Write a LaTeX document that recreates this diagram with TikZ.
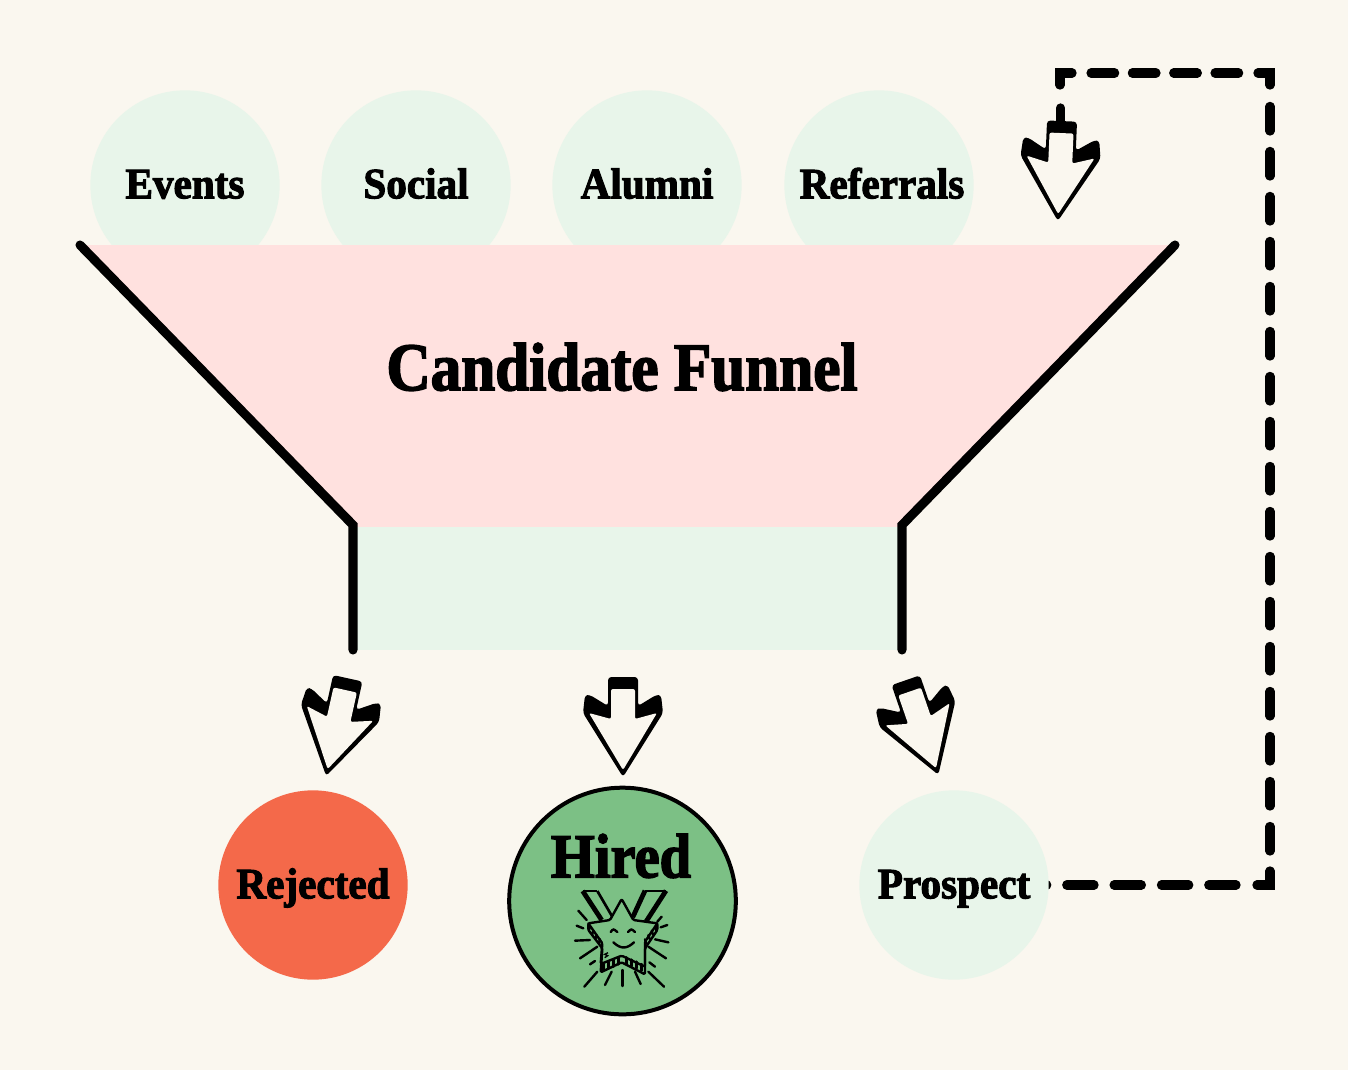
\documentclass[tikz,border=0pt]{standalone}
\usepackage{fontspec}
\setmainfont{Liberation Serif}[BoldFeatures={FakeBold=2.4,FakeStretch=0.90}]
\newfontfamily\labelfont{Liberation Serif}[BoldFeatures={FakeBold=2.4,FakeStretch=0.95}]
\pgfdeclarelayer{under}
\pgfsetlayers{under,main}
\definecolor{paper}{HTML}{FAF7EF}
\definecolor{mint}{HTML}{E8F5EA}
\definecolor{blush}{HTML}{FFE1DF}
\definecolor{coral}{HTML}{F4694A}
\definecolor{leaf}{HTML}{7CC085}
\tikzset{
    bubble/.style={circle, fill=mint, minimum size=142pt, inner sep=0pt,
        font=\labelfont\bfseries\fontsize{32.5}{32.5}\selectfont, text height=20pt, text depth=0pt},
    funnelwall/.style={line width=6.8pt, line cap=round, line join=miter},
    feedback/.style={line width=7pt, line cap=round, line join=miter},
    ray/.style={line width=1.8pt, line cap=round},
    downarrow/.pic={
        \fill[black, rounded corners=2.5pt] (0,4) -- (-40,-60) -- (-38,-78) -- (-33,-78) -- (-15,-67)
            -- (-15,-96) -- (15,-96) -- (15,-67) -- (33,-78) -- (38,-78) -- (40,-60) -- cycle;
        \fill[paper, rounded corners=1.5pt] (0,-3) -- (-34,-60) -- (-12,-54) -- (-12,-84)
            -- (12,-84) -- (12,-54) -- (34,-60) -- cycle;
    }
}
\begin{document}
\begin{tikzpicture}[x=0.75pt, y=-0.75pt]
    \useasboundingbox (0,0) rectangle (1348,1070);
    % sources
    \node[bubble] (Events) at (185,185) {Events};
    \node[bubble] (Social) at (416,185) {Social};
    \node[bubble] (Alumni) at (647,185) {Alumni};
    \node[bubble] (Referrals) at (879,185) {\hspace*{4.5pt}Referrals};
    % funnel
    \fill[blush] (80,245) -- (1175,245) -- (902,527) -- (353,527) -- cycle;
    \fill[mint] (353,527) rectangle (902,650);
    \draw[funnelwall] (80,245) -- (353,525) -- (353,650);
    \draw[funnelwall] (1175,245) -- (902,525) -- (902,650);
    \node[font=\bfseries\fontsize{51}{51}\selectfont] (Funnel) at (622,367) {Candidate Funnel};
    % outcomes
    \node[bubble, fill=coral] (Rejected) at (313,885) {Rejected};
    \node[circle, draw=black, line width=3pt, fill=leaf, minimum size=170pt, inner sep=0pt] (Hired) at (622.5,901) {};
    \node[font=\bfseries\fontsize{47}{47}\selectfont] (HiredText) at (621,856) {Hired};
    \node[bubble] (Prospect) at (954,885) {Prospect};
    % arrows
    \pic[rotate=-12.5] at (327,772) {downarrow};
    \pic at (623,773) {downarrow};
    \pic[rotate=19] at (937,771) {downarrow};
    \pic[rotate=-2.4] (Back) at (1058,217) {downarrow};
    % way back to the top
    \coordinate (cornerA) at (1270,885);
    \coordinate (cornerB) at (1270,73);
    \coordinate (cornerC) at (1060,73);
    \begin{pgfonlayer}{under}
        \fill[paper] (0,0) rectangle (1348,1070);
        \draw[feedback, dash pattern=on 20.4pt off 15.1pt, dash phase=21.9pt] (Prospect.center) -- (1250,885);
    \end{pgfonlayer}
    \draw[feedback] (1257,885) -- (cornerA) -- (1270,871);
    \draw[feedback, dash pattern=on 18.4pt off 15.35pt, dash phase=27pt] (1270,860) -- (1270,96);
    \draw[feedback] (1270,85) -- (cornerB) -- (1258,73);
    \draw[feedback, dash pattern=on 17.65pt off 13.35pt, dash phase=22.45pt] (1250,73) -- (1082,73);
    \draw[feedback] (1072,73) -- (cornerC) -- (1060,85);
    \draw[feedback] (1060.5,108) -- (1060.5,122);
    % medal, drawn in steps of a third of a pixel
    \begin{scope}[shift={(540,780)}, x=0.25pt, y=-0.25pt]
        \foreach \xa/\ya/\xb/\yb in {115/392/140/420, 110/437/130/445, 105/482/150/480, 120/535/172/500,
            150/553/165/543, 133/620/172/575, 195/615/215/575, 247/618/247/570, 302/612/285/575,
            372/620/325/575, 345/560/328/547, 378/535/325/500, 385/487/345/478, 382/435/362/442, 365/410/352/425}
            \draw[ray] (\xa,\ya) -- (\xb,\yb);
        % ribbons
        \draw[line width=3.6pt] (128,333) -- (185,420);
        \draw[line width=2pt] (172,333) -- (218,412);
        \draw[line width=1.6pt] (128,333) -- (172,333);
        \draw[line width=3.6pt] (315,332) -- (278,412);
        \draw[line width=3.6pt] (378,332) -- (318,425);
        \draw[line width=1.6pt] (315,332) -- (378,332);
        \draw[ray, fill=leaf, line join=round, rounded corners=1pt] (145,450) -- (187,505) -- (182,577) -- (245,547) -- (315,583) -- (315,505) -- (352,450) -- (352,430)
            -- (280,420) -- (245,357) -- (210,420) -- (145,430) -- cycle;
        \draw[ray, line join=round, rounded corners=1pt] (145,430) -- (187,490) -- (182,552) -- (245,527) -- (315,560) -- (315,485) -- (352,430);
        \foreach \xa/\ya/\xb/\yb in {150/440/146/452, 160/452/156/464, 170/465/166/477, 180/478/176/490,
            190/552/190/572, 205/546/205/566, 220/540/220/560, 235/533/235/553,
            260/532/260/552, 275/539/275/559, 290/545/290/565, 305/552/305/572,
            345/440/349/452, 335/452/339/464, 325/465/329/477, 315/478/319/490}
            \draw[ray] (\xa,\ya) -- (\xb,\yb);
        \draw[ray] (212,456) .. controls (220,446) .. (232,456);
        \draw[ray] (264,456) .. controls (274,446) .. (285,456);
        \draw[ray] (220,487) .. controls (245,510) and (262,505) .. (282,487);
        \draw[line width=1pt] (204,518) -- (194,523) -- (203,527) -- (194,533);
    \end{scope}
\end{tikzpicture}
\end{document}
